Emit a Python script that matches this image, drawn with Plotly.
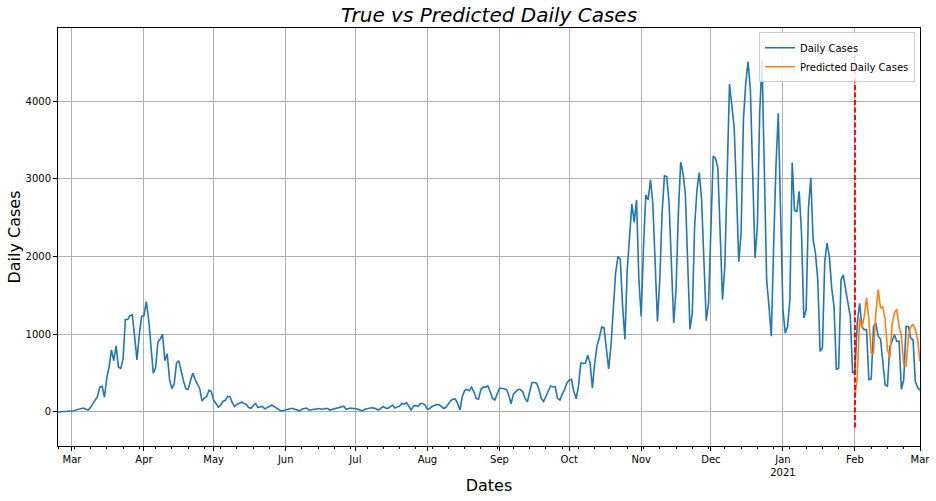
import pandas as pd
import plotly.graph_objects as go

# ---- data (daily cases) ----
feb_2020 = [0, 1, 2, 3, 5, 8]  # Feb 24 - Feb 29
mar_2020 = [10, 15, 30, 40, 40, 50, 35, 25, 60, 110, 150, 200, 320, 330, 190, 440, 580, 800, 660, 850,
            580, 560, 680, 1190, 1190, 1240, 1250, 950, 670, 1000, 1230]
apr_2020 = [1240, 1420, 1200, 820, 500, 570, 900, 940, 1000, 660, 750, 420, 300, 360, 630, 660, 520, 400,
            300, 290, 400, 500, 420, 360, 300, 140, 180, 200, 280, 260]
may_2020 = [150, 110, 60, 90, 135, 150, 200, 200, 120, 70, 100, 110, 130, 110, 100, 60, 45, 80, 110, 60,
            70, 70, 40, 50, 70, 90, 70, 50, 30, 15, 20]
jun_2020 = [25, 35, 45, 45, 35, 20, 15, 35, 45, 50, 25, 25, 35, 35, 45, 40, 35, 45, 45, 25, 35, 45, 50,
            55, 70, 75, 35, 45, 50, 45]
jul_2020 = [45, 35, 25, 15, 35, 45, 50, 55, 50, 35, 25, 50, 70, 50, 45, 70, 90, 50, 60, 75, 110, 100,
            120, 75, 25, 75, 85, 70, 110, 110, 90]
aug_2020 = [35, 45, 70, 85, 95, 95, 75, 45, 60, 100, 145, 165, 165, 110, 25, 200, 275, 290, 275, 320,
            260, 175, 165, 290, 320, 320, 335, 260, 175, 155, 240]
sep_2020 = [305, 305, 295, 290, 220, 105, 230, 260, 290, 290, 260, 175, 130, 260, 380, 380, 370, 290,
            175, 135, 205, 285, 335, 325, 325, 175, 155, 230, 285, 370]
oct_2020 = [410, 420, 265, 170, 330, 630, 625, 630, 730, 630, 310, 630, 855, 955, 1095, 1085, 785, 555,
            850, 1405, 1795, 2000, 1965, 1365, 935, 1835, 2200, 2675, 2445, 2730, 1710]
nov_2020 = [1230, 2130, 2795, 2730, 2990, 2690, 2000, 1165, 1700, 2560, 3040, 3030, 2690, 2000, 1145,
            1575, 2560, 3215, 3075, 2815, 2000, 1065, 1275, 2390, 2860, 3080, 2730, 1875, 1175, 1400]
dec_2020 = [2515, 3295, 3265, 3140, 2300, 1445, 1875, 3200, 4220, 3950, 3675, 2860, 1935, 2300, 3760,
            4235, 4510, 4145, 2990, 1980, 2390, 3845, 4530, 2990, 1700, 1360, 975, 2130, 3160, 3845, 2390]
jan_2021 = [1315, 1015, 1100, 1445, 3210, 2595, 2580, 2840, 2300, 1210, 1315, 2625, 3015, 2215, 2045,
            1700, 780, 825, 1935, 2175, 2000, 1595, 1360, 545, 565, 1700, 1765, 1575, 1400, 1230, 500]
feb_2021 = [525, 1145, 1400, 1100, 1060, 1060, 415, 425, 1100, 1145, 975, 940, 590, 350, 330, 845, 910,
            995, 910, 910, 290, 415, 1100, 1100, 950, 930, 395, 310]
mar_2021 = [280]

predicted = [180, 460, 1210, 1080, 1230, 1470, 1190, 760, 760, 1275, 1575, 1340, 1350, 1190, 800, 695,
             1125, 1275, 1320, 1100, 975, 610, 590, 975, 1100, 1125, 1060, 930, 650]

start_date = "2020-02-24"
pred_start = "2021-02-01"
split_date = "2021-02-01"
split_line_y = [-200, 4700]

month_ticks = ["2020-03-01", "2020-04-01", "2020-05-01", "2020-06-01", "2020-07-01", "2020-08-01",
               "2020-09-01", "2020-10-01", "2020-11-01", "2020-12-01", "2021-01-01", "2021-02-01",
               "2021-03-01"]
month_labels = ["Mar", "Apr", "May", "Jun", "Jul", "Aug", "Sep", "Oct", "Nov", "Dec", "Jan<br>2021",
                "Feb", "Mar"]
y_ticks = [0, 1000, 2000, 3000, 4000]

# ---- build ----
actual = (feb_2020 + mar_2020 + apr_2020 + may_2020 + jun_2020 + jul_2020 + aug_2020 + sep_2020 +
          oct_2020 + nov_2020 + dec_2020 + jan_2021 + feb_2021 + mar_2021)
dates = pd.date_range(start_date, periods=len(actual), freq="D")
pred_dates = pd.date_range(pred_start, periods=len(predicted), freq="D")
minor_ticks = pd.date_range(start_date, dates[-1], freq="7D")

fig = go.Figure()
fig.add_trace(go.Scatter(x=dates, y=actual, mode="lines", name="Daily Cases",
                         line=dict(color="#1f77b4", width=1.6)))
fig.add_trace(go.Scatter(x=pred_dates, y=predicted, mode="lines", name="Predicted Daily Cases",
                         line=dict(color="#ff7f0e", width=1.6)))
fig.add_trace(go.Scatter(x=[split_date, split_date], y=split_line_y, mode="lines", showlegend=False,
                         line=dict(color="red", width=2, dash="5px,2.5px")))

font = "DejaVu Sans, Arial, sans-serif"
fig.update_layout(
    width=936, height=501,
    margin=dict(l=58, r=16, t=28, b=55),
    paper_bgcolor="white", plot_bgcolor="white",
    font=dict(family=font, size=10, color="black"),
    title=dict(text="<i>True vs Predicted Daily Cases</i>", x=0.5, xref="paper", xanchor="center",
               y=1 - 15 / 501, yanchor="middle", font=dict(size=20, family=font)),
    legend=dict(x=0.9942, y=0.99, xanchor="right", yanchor="top", bgcolor="rgba(255,255,255,0.85)",
                bordercolor="#cccccc", borderwidth=1, font=dict(size=10, family=font),
                tracegroupgap=0, itemwidth=30),
    showlegend=True,
)
fig.update_xaxes(
    automargin=False,
    range=[dates[0], dates[-1]], tickmode="array", tickvals=month_ticks, ticktext=month_labels,
    showgrid=True, gridcolor="#b0b0b0", gridwidth=0.8, showline=True, linecolor="black", linewidth=1,
    mirror=True, ticks="outside", ticklen=4, tickcolor="black", tickangle=0,
    minor=dict(tickvals=list(minor_ticks), ticks="outside", ticklen=2, tickcolor="black", showgrid=False),
    title=dict(text="Dates", font=dict(size=16, family=font), standoff=2),
)
fig.update_yaxes(
    automargin=False,
    range=[-438, 4943], tickmode="array", tickvals=y_ticks,
    showgrid=True, gridcolor="#b0b0b0", gridwidth=0.8, zeroline=False, showline=True, linecolor="black",
    linewidth=1, mirror=True, ticks="outside", ticklen=4, tickcolor="black",
    title=dict(text="Daily Cases", font=dict(size=16, family=font), standoff=0),
)

fig.write_html("out.html")
